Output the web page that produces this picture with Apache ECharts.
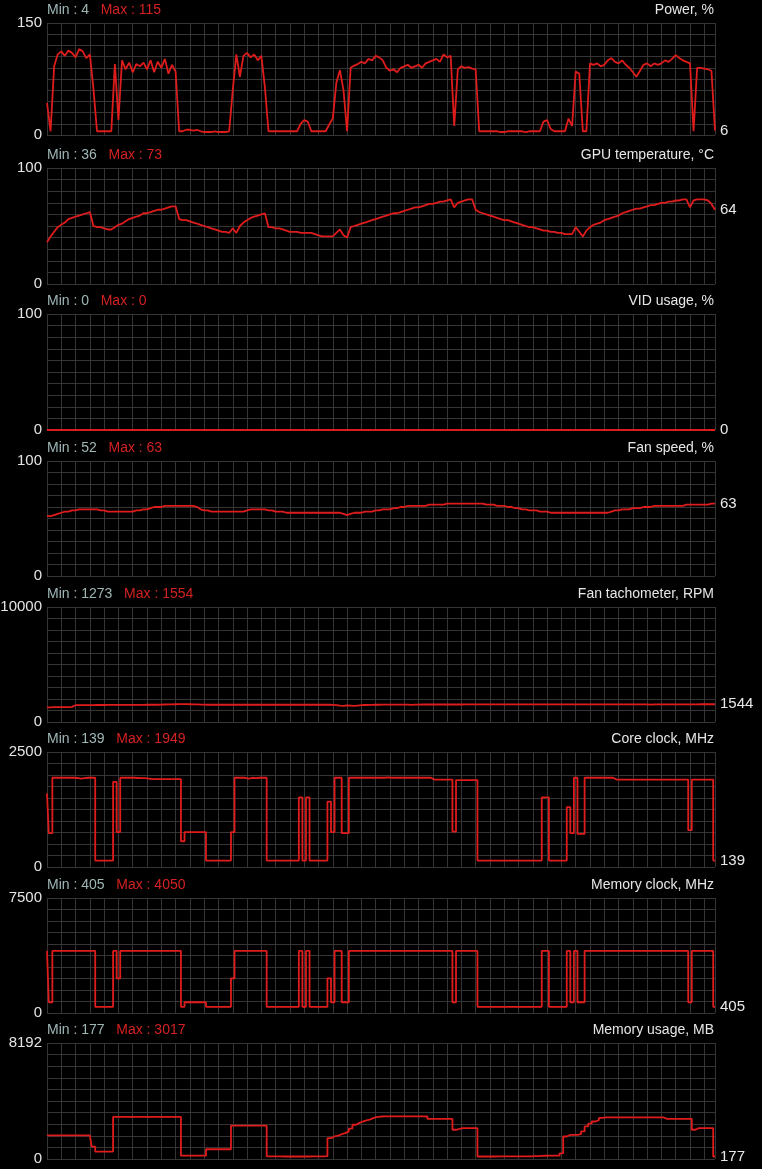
<!DOCTYPE html>
<html>
<head>
<meta charset="utf-8">
<script src="https://cdn.jsdelivr.net/npm/echarts@6/dist/echarts.min.js"></script>
<style>
html,body{margin:0;padding:0;background:#000;}
#c{width:762px;height:1169px;}
</style>
</head>
<body>
<div id="c"></div>
<script>
// ---- data (one sample per time step) ----
const names = ['Power, %','GPU temperature, °C','VID usage, %','Fan speed, %','Fan tachometer, RPM','Core clock, MHz','Memory clock, MHz','Memory usage, MB'];
const minLabels = [4,36,0,52,1273,139,405,177];
const maxLabels = [115,73,0,63,1554,1949,4050,3017];
const axisMax = [150,100,100,100,10000,2500,7500,8192];

const power = [43,5,92,108,112,106,113,110,104,115,112,103,108,
62,5,5,5,5,5,
95,20,100,88,97,84,95,92,97,88,100,84,98,90,102,82,94,85,
5,5,7,7,6,7,5,4,4,4,5,4,4,4,5,
60,108,78,106,110,104,108,100,106,64,
5,5,5,5,5,5,5,5,5,
15,20,18,5,
5,5,5,5,
14,22,70,87,60,5,
90,93,95,98,96,102,100,106,104,100,90,86,88,84,90,92,94,90,92,94,90,96,98,100,102,98,108,104,106,
12,88,92,90,91,89,88,
5,5,5,5,5,5,4,4,5,5,5,5,5,4,5,5,5,5,
18,20,8,
5,5,5,5,
22,12,85,82,5,5,
96,94,96,92,94,100,103,98,96,100,94,90,84,78,86,94,96,92,96,94,96,100,98,102,107,103,100,98,96,
5,90,90,89,88,86,6];

const temp = [36,41,45,49,51,53,56,57,58,59,60,61,62,
50,49,49,48,47,47,49,51,
52,54,56,57,58,59,61,61,62,63,64,64,65,66,67,67,
56,55,55,54,53,52,51,50,49,48,47,46,45,45,44,48,44,
50,53,55,57,58,59,60,61,
49,49,48,48,47,46,45,45,45,44,44,44,44,43,42,41,41,41,41,
44,47,42,40,49,
50,51,52,53,54,55,56,57,58,59,60,61,61,62,63,64,65,66,66,67,68,69,69,70,71,71,72,73,
66,70,71,72,73,73,
64,62,61,60,59,58,57,56,55,55,54,53,52,51,50,49,49,48,47,46,46,45,45,44,44,43,43,43,
49,45,41,46,49,
51,52,53,55,56,57,58,59,61,62,63,64,65,65,66,67,68,68,69,70,70,71,71,72,72,73,
73,66,72,73,73,73,72,69,64];

const vid = [0,0,0,0,0,0,0,0,0,0,0,0,0,0,0,0,0,0,0,0,
0,0,0,0,0,0,0,0,0,0,0,0,0,0,0,0,0,0,0,0,
0,0,0,0,0,0,0,0,0,0,0,0,0,0,0,0,0,0,0,0,
0,0,0,0,0,0,0,0,0,0,0,0,0,0,0,0,0,0,0,0,
0,0,0,0,0,0,0,0,0,0,0,0,0,0,0,0,0,0,0,0,
0,0,0,0,0,0,0,0,0,0,0,0,0,0,0,0,0,0,0,0,
0,0,0,0,0,0,0,0,0,0,0,0,0,0,0,0,0,0,0,0,
0,0,0,0,0,0,0,0,0,0,0,0,0,0,0,0,0,0,0,0,
0,0,0,0,0,0,0,0,0,0,0,0,0,0,0,0,0,0,0,0,
0,0,0,0,0,0,0,0];

const fan = [52,52,53,
54,55,56,56,
57,57,58,58,58,58,58,58,57,57,
56,56,56,56,56,56,56,56,57,
57,58,58,59,60,60,60,
61,61,61,61,61,61,61,61,61,60,
58,57,57,56,56,56,56,56,56,56,56,56,56,57,
58,58,58,58,58,57,57,
56,56,56,55,55,55,55,55,55,55,55,55,55,55,55,55,55,55,55,54,
53,54,55,
55,55,56,56,56,57,57,58,58,58,59,59,60,
60,61,61,61,61,61,61,62,62,62,62,62,63,
63,63,63,63,63,63,63,63,63,63,62,62,
62,61,61,61,60,60,59,59,58,58,57,57,57,56,56,56,55,55,
55,55,55,55,55,55,55,55,55,55,55,55,55,55,55,56,
57,57,58,58,58,59,59,59,60,60,60,61,
61,61,61,61,61,61,61,61,62,62,62,62,62,62,62,63,63];

const tach = [1273,1280,1285,1290,1290,1295,1300,1310,
1460,1465,1470,1470,1475,1475,1480,1480,1480,1485,1485,1485,1490,1490,1490,1490,1490,1495,1495,1495,1500,1500,1500,1500,1505,
1520,1530,1540,1545,1550,1554,1550,1545,1540,1530,1515,
1505,1500,1500,1500,1500,1500,1500,1500,1500,1500,
1500,1500,1500,1500,1500,1500,1500,1500,1500,1500,
1500,1500,1500,1500,1500,1500,1500,1500,1500,1500,
1500,1500,1500,1500,1500,1500,1495,
1470,1430,1410,1440,1420,1400,1430,1460,1480,
1490,1495,1500,1500,1505,1505,1510,1510,1510,1515,1515,1515,
1490,1515,
1515,1520,1520,1520,1520,1520,1520,1520,1520,1520,
1520,1520,1520,1525,1525,1525,1525,1525,1525,1525,
1525,1525,1525,1525,1525,1525,1525,
1525,1525,1525,1525,1525,1525,1525,1525,1525,1525,
1530,1530,1530,1530,1530,1530,1530,1530,1530,1530,
1530,1530,1530,1530,1530,1530,1530,1530,1530,1530,
1530,1530,1530,1530,1530,1530,1530,1530,
1505,1535,
1535,1535,1535,1535,1540,1540,1540,1540,1540,1540,
1540,1540,1544,1544,1544,1544,1544];

const core = [1600,735,
1940,1940,1940,1940,1940,1940,1935,1920,1930,1940,1940,1940,
139,139,139,139,139,
1850,760,
1940,1940,1940,1940,1935,1930,1930,1920,1910,1910,1910,1910,1910,1910,1910,1910,1910,
560,760,760,760,760,760,760,
139,139,139,139,139,139,139,
760,
1940,1940,1940,1920,1940,1930,1940,1940,1940,
139,139,139,139,139,139,139,139,139,
1513,139,1513,139,
139,139,139,139,
1420,760,1940,1940,735,735,
1940,1940,1940,1940,1940,1940,1940,1940,1940,1940,
1949,1940,1940,1940,1940,1940,1940,1940,1940,1940,
1940,1940,1940,
1900,1900,1900,1900,1900,1900,
770,1890,
1890,1890,1890,1890,1890,
139,139,139,139,139,139,139,139,139,139,139,139,139,139,139,139,139,139,
1513,1513,
139,139,139,139,139,
1300,735,
1940,720,720,
1940,
1940,1940,1940,1940,1940,1940,1940,
1900,1900,1900,1900,1900,1900,1900,1900,1900,1900,
1900,1900,1900,1900,1900,1900,1900,1900,1900,1900,1900,
800,
1900,1900,1900,1900,1900,1900,
139];

const memClock = [4050,700,
4050,4050,4050,4050,4050,4050,4050,4050,4050,4050,4050,4050,
405,405,405,405,405,
4050,2260,
4050,4050,4050,4050,4050,4050,4050,4050,4050,4050,4050,4050,4050,4050,4050,4050,4050,
405,700,700,700,700,700,700,
405,405,405,405,405,405,405,
2260,
4050,4050,4050,4050,4050,4050,4050,4050,4050,
405,405,405,405,405,405,405,405,405,
4050,405,4050,405,
405,405,405,405,
2260,700,4050,4050,700,700,
4050,4050,4050,4050,4050,4050,4050,4050,4050,4050,
4050,4050,4050,4050,4050,4050,4050,4050,4050,4050,
4050,4050,4050,4050,4050,4050,4050,4050,4050,
700,4050,4050,4050,4050,4050,4050,
405,405,405,405,405,405,405,405,405,405,405,405,405,405,405,405,405,405,
4050,4050,
405,405,405,405,405,
4050,700,4050,700,700,
4050,4050,4050,4050,4050,4050,4050,4050,4050,4050,
4050,4050,4050,4050,4050,4050,4050,4050,4050,4050,
4050,4050,4050,4050,4050,4050,4050,4050,4050,
700,
4050,4050,4050,4050,4050,4050,
405];

const memUsage = [1662,1662,1662,1662,1662,1662,1662,1662,1662,1662,1662,1662,1662,
879,520,
522,522,522,522,
2968,2968,2968,2968,2968,2968,2968,2968,2968,2968,2968,2968,2968,2968,2968,2968,2968,2968,2968,
237,237,237,237,237,237,237,
690,690,690,690,690,690,690,
2350,2350,2350,2350,2350,2350,2350,2350,2350,2350,
190,185,180,180,177,177,177,177,177,177,177,177,180,180,185,190,200,
1470,1590,1650,1750,1830,1950,2150,2420,2550,2650,2730,2800,2900,2968,3000,
3017,3010,3017,3010,3010,3017,3010,3010,3017,3010,3010,3010,3000,
2830,2830,2830,2830,2830,2830,2830,
2065,2120,2180,2180,2180,2180,2180,
177,177,177,177,177,180,180,180,180,180,180,185,185,190,190,200,210,220,230,237,
237,237,237,400,
1590,1710,1710,1710,1750,1945,2300,2500,2650,2750,2900,
2945,2945,2945,2945,2945,2945,2945,2945,2945,2945,2945,2945,2945,2945,2945,2945,2945,
2830,2830,2830,2830,2830,2830,2830,2830,
2065,2180,2180,2180,2180,2180,
177];

const seriesData = [power,temp,vid,fan,tach,core,memClock,memUsage];
const stepMode = [false,false,false,false,false,'middle','middle','middle'];

// ---- layout ----
const tops = [23,168,314,461,607,752,898,1043];
const heights = [112,116,116,115,115,115,115,116];
const N = 188;
const LEFT = 47, WIDTH = 668;
const gridColor = '#353535';
const lineColor = '#de1c1c';
const font = 'Arial, "Liberation Sans", sans-serif';

const chart = echarts.init(document.getElementById('c'), null, {renderer:'canvas'});

const grids = [], xAxes = [], yAxes = [], series = [], titles = [];
for (let i = 0; i < 8; i++) {
  grids.push({left: LEFT, top: tops[i], width: WIDTH, height: heights[i], containLabel: false, outerBoundsMode: 'none'});
  xAxes.push({
    type: 'value', gridIndex: i, min: 0, max: N - 1, interval: 4,
    axisLine: {show: false}, axisTick: {show: false}, axisLabel: {show: false},
    splitLine: {show: true, lineStyle: {color: gridColor, width: 1}}
  });
  const m = axisMax[i];
  yAxes.push({
    type: 'value', gridIndex: i, min: 0, max: m, interval: m / 10,
    axisLine: {show: false}, axisTick: {show: false},
    splitLine: {show: true, lineStyle: {color: gridColor, width: 1}},
    axisLabel: {
      show: true, margin: 5, color: '#e4e4e4', fontSize: 15, fontFamily: font,
      formatter: v => (v === 0 || v === m) ? String(v) : ''
    }
  });
  series.push({
    type: 'line', xAxisIndex: i, yAxisIndex: i,
    data: seriesData[i].map((v, k) => [k, v]),
    step: stepMode[i], showSymbol: false, symbol: 'none', animation: false,
    lineStyle: {color: lineColor, width: 1.8},
    endLabel: {show: true, distance: 5, color: '#e8e8e8', fontSize: 15, fontFamily: font,
      formatter: p => String(p.value[1])}
  });
  titles.push({
    text: '{a|Min : ' + minLabels[i] + '}   {b|Max : ' + maxLabels[i] + '}',
    left: LEFT, top: tops[i] - 21, padding: 0,
    textStyle: {fontFamily: font, fontSize: 14, fontWeight: 'normal', lineHeight: 16,
      rich: {a: {color: '#9fb6b6', fontSize: 14, fontFamily: font},
             b: {color: '#d42222', fontSize: 14, fontFamily: font}}}
  });
  titles.push({
    text: names[i], right: 762 - (LEFT + WIDTH) + 1, top: tops[i] - 21, padding: 0,
    textStyle: {color: '#e6e6e6', fontFamily: font, fontSize: 14, fontWeight: 'normal', lineHeight: 16}
  });
}

const bad = seriesData.map((a, i) => a.length !== N ? names[i] + ':' + a.length : null).filter(Boolean);
const graphic = bad.length ? [{type: 'text', left: 200, top: 500, style: {text: 'LEN ' + bad.join(' '), fill: '#ff0', font: '20px sans-serif'}}] : [];

chart.setOption({
  backgroundColor: '#000',
  animation: false,
  title: titles,
  grid: grids,
  xAxis: xAxes,
  yAxis: yAxes,
  series: series,
  graphic: graphic
});
</script>
</body>
</html>
